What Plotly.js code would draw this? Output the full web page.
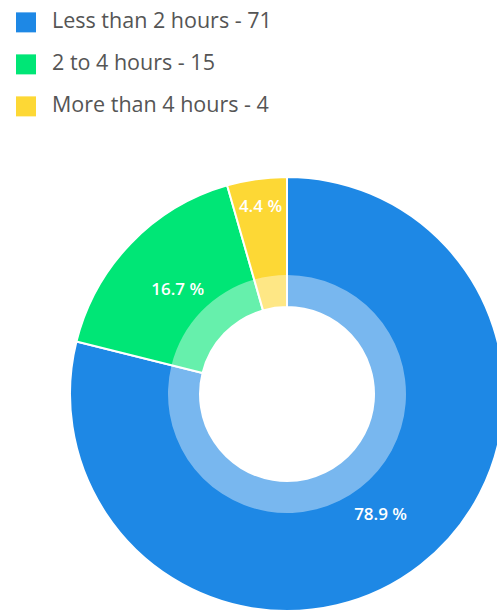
<!DOCTYPE html>
<html>
<head>
<meta charset="utf-8">
<script src="https://cdn.plot.ly/plotly-3.0.1.min.js"></script>
<style>
html,body{margin:0;padding:0;background:#fff;overflow:hidden;width:497px;height:612px;}
#chart{width:520px;height:612px;}
</style>
</head>
<body>
<div id="chart"></div>
<script>
const categories = ['Less than 2 hours', '2 to 4 hours', 'More than 4 hours'];
const counts = [71, 15, 4];
const sliceColors = ['#1e88e5', '#00e676', '#fdd835'];

const total = counts.reduce((a, b) => a + b, 0);
const legendLabels = categories.map((c, i) =>
  '<span style="font-size:21.5px">' + c + ' - ' + counts[i] + '</span><br> ');
const pctText = counts.map(v => (v / total * 100).toFixed(1) + ' %');

const W = 520, H = 612;
const cx = 287, cy = 394, rOuter = 217, rRing = 119, rHole = 87;
function dom(r) {
  return {
    x: [(cx - r) / W, (cx + r) / W],
    y: [(H - cy - r) / H, (H - cy + r) / H]
  };
}

const outer = {
  type: 'pie',
  labels: legendLabels,
  values: counts,
  text: pctText,
  textinfo: 'text',
  textposition: 'inside',
  insidetextorientation: 'horizontal',
  textfont: {color: '#ffffff', size: 17, family: 'Open Sans', weight: 600},
  sort: false,
  direction: 'clockwise',
  rotation: 0,
  hole: rHole / rOuter,
  domain: dom(rOuter),
  marker: {colors: sliceColors, line: {color: '#ffffff', width: 2}},
  hoverinfo: 'label+percent'
};

const ring = {
  type: 'pie',
  labels: legendLabels,
  values: counts,
  textinfo: 'none',
  sort: false,
  direction: 'clockwise',
  rotation: 0,
  hole: rHole / rRing,
  domain: dom(rRing),
  showlegend: false,
  marker: {colors: counts.map(() => 'rgba(255,255,255,0.4)'), line: {width: 0}},
  hoverinfo: 'skip'
};

const layout = {
  width: W,
  height: H,
  autosize: false,
  margin: {l: 0, r: 0, t: 0, b: 0},
  paper_bgcolor: '#ffffff',
  showlegend: true,
  legend: {
    x: 0, xanchor: 'left', y: 0.99, yanchor: 'top',
    font: {family: 'Open Sans', size: 15, color: '#555555'},
    valign: 'top',
    itemwidth: 42,
    bgcolor: 'rgba(0,0,0,0)'
  }
};

Plotly.newPlot('chart', [outer, ring], layout, {displayModeBar: false, staticPlot: true}).then(function () {
  document.querySelectorAll('#chart path.legendpie').forEach(function (p) {
    p.setAttribute('d', 'M10,10H-10V-10H10Z');
    p.style.strokeWidth = '0';
  });
});
</script>
</body>
</html>
